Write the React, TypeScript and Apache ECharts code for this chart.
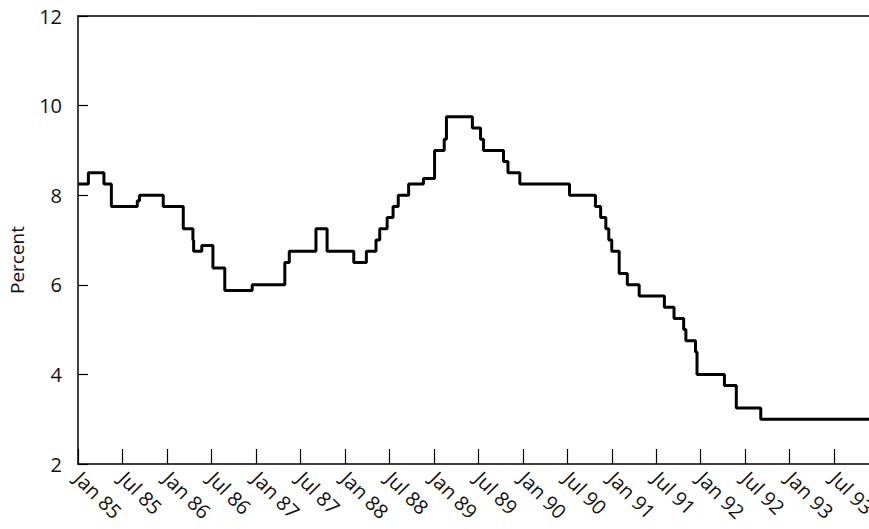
import React, { useEffect, useRef } from 'react';
import * as echarts from 'echarts';

// months since Jan 1985 at which the rate changes
const changeMonths = [
  0, 1.4, 3.5, 4.5, 8.0, 8.3, 11.5, 14.2, 15.5, 15.6, 16.7, 18.2, 19.8, 23.5,
  27.9, 28.5, 32.1, 33.6, 37.2, 38.9, 40.2, 40.7, 41.7, 42.5, 43.2, 44.6, 46.6,
  48.1, 49.4, 49.7, 53.2, 54.3, 54.7, 57.4, 58.0, 59.6, 66.3, 69.8, 70.5, 71.2,
  71.6, 72.0, 73.0, 74.1, 75.7, 79.1, 80.4, 81.7, 82.0, 83.3, 83.5, 87.2, 88.8,
  92.1, 106.7,
];

// rate (percent) from each change onwards
const rates = [
  8.25, 8.5, 8.25, 7.75, 7.875, 8.0, 7.75, 7.25, 7.0, 6.75, 6.875, 6.375, 5.875, 6.0,
  6.5, 6.75, 7.25, 6.75, 6.5, 6.75, 7.0, 7.25, 7.5, 7.75, 8.0, 8.25, 8.375,
  9.0, 9.25, 9.75, 9.5, 9.25, 9.0, 8.75, 8.5, 8.25, 8.0, 7.75, 7.5, 7.25,
  7.0, 6.75, 6.25, 6.0, 5.75, 5.5, 5.25, 5.0, 4.75, 4.5, 4.0, 3.75, 3.25,
  3.0, 3.0,
];

const tickLabels = [
  'Jan 85', 'Jul 85', 'Jan 86', 'Jul 86', 'Jan 87', 'Jul 87', 'Jan 88', 'Jul 88', 'Jan 89',
  'Jul 89', 'Jan 90', 'Jul 90', 'Jan 91', 'Jul 91', 'Jan 92', 'Jul 92', 'Jan 93', 'Jul 93',
];

const FONT = '"Open Sans", sans-serif';

const App: React.FC = () => {
  const chartRef = useRef<HTMLDivElement>(null);

  useEffect(() => {
    document.body.style.margin = '0';
    if (!chartRef.current) return;
    const chart = echarts.init(chartRef.current, null, { renderer: 'svg' });

    const option = {
      animation: false,
      textStyle: { fontFamily: FONT },
      grid: { left: 78, right: 0, top: 16, bottom: 65, outerBoundsMode: 'none' },
      xAxis: [
        {
          type: 'value',
          min: 0,
          max: 106.7,
          interval: 6,
          splitLine: { show: false },
          axisLine: { lineStyle: { color: '#000', width: 1.5 } },
          axisTick: { inside: true, length: 15, lineStyle: { color: '#000', width: 1.2 } },
          axisLabel: {
            rotate: -45,
            margin: 11,
            fontSize: 20,
            color: '#111',
            fontFamily: FONT,
            hideOverlap: false,
            showMaxLabel: false,
            formatter: (v: number) => tickLabels[Math.round(v / 6)] ?? '',
          },
        },
        {
          type: 'value',
          position: 'top',
          min: 0,
          max: 106.7,
          splitLine: { show: false },
          axisLine: { show: true, lineStyle: { color: '#000', width: 1.5 } },
          axisTick: { show: false },
          axisLabel: { show: false },
        },
      ],
      yAxis: {
        type: 'value',
        min: 2,
        max: 12,
        interval: 2,
        splitLine: { show: false },
        axisLine: { show: true, lineStyle: { color: '#000', width: 1.5 } },
        axisTick: { inside: true, length: 10, lineStyle: { color: '#000', width: 1.2 } },
        axisLabel: { margin: 16, fontSize: 20, color: '#111', fontFamily: FONT },
      },
      graphic: [
        {
          type: 'text',
          x: 17,
          y: 260,
          rotation: Math.PI / 2,
          style: {
            text: 'Percent',
            fontSize: 19,
            fontFamily: FONT,
            fill: '#111',
            align: 'center',
            verticalAlign: 'middle',
          },
        },
      ],
      series: [
        {
          type: 'line',
          step: 'end',
          showSymbol: false,
          symbol: 'none',
          xAxisIndex: 0,
          lineStyle: { color: '#000', width: 3 },
          data: changeMonths.map((m, i) => [m, rates[i]]),
        },
      ],
    };

    chart.setOption(option);
    return () => {
      chart.dispose();
    };
  }, []);

  return <div ref={chartRef} style={{ width: 869, height: 529 }} />;
};

export default App;
